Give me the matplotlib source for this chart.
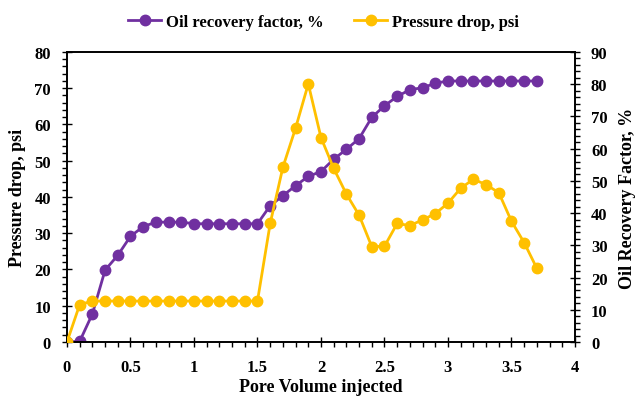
import numpy as np
import matplotlib
matplotlib.use('Agg')
import matplotlib.pyplot as plt
from matplotlib.ticker import MultipleLocator

# pore volume injected (every 0.1 PV)
pv = [0.0, 0.1, 0.2, 0.3, 0.4, 0.5, 0.6, 0.7, 0.8, 0.9,
      1.0, 1.1, 1.2, 1.3, 1.4, 1.5, 1.6, 1.7, 1.8, 1.9,
      2.0, 2.1, 2.2, 2.3, 2.4, 2.5, 2.6, 2.7, 2.8, 2.9,
      3.0, 3.1, 3.2, 3.3, 3.4, 3.5, 3.6, 3.7]

oil_recovery = [0.0, 0.2, 8.7, 22.3, 26.9, 32.8, 35.8, 37.2, 37.2, 37.2,
                36.7, 36.7, 36.7, 36.7, 36.7, 36.7, 42.3, 45.4, 48.5, 51.4,
                52.9, 56.7, 59.8, 63.1, 69.7, 73.3, 76.2, 78.3, 78.9, 80.3,
                81.0, 81.0, 81.0, 81.0, 81.0, 81.0, 81.0, 81.0]

pressure_drop = [0.0, 10.3, 11.3, 11.3, 11.3, 11.3, 11.3, 11.3, 11.3, 11.3,
                 11.3, 11.3, 11.3, 11.3, 11.3, 11.3, 32.7, 48.2, 59.0, 71.2,
                 56.4, 47.9, 40.8, 35.0, 26.3, 26.4, 32.7, 32.1, 33.7, 35.4,
                 38.3, 42.4, 44.9, 43.4, 41.2, 33.3, 27.4, 20.3]

xticks = [0, 0.5, 1, 1.5, 2, 2.5, 3, 3.5, 4]
xticklabels = ['0', '0.5', '1', '1.5', '2', '2.5', '3', '3.5', '4']

purple = '#7030A0'
gold = '#FFC000'

plt.rcParams['font.family'] = ['Liberation Serif', 'DejaVu Serif']

fig = plt.figure(figsize=(6.41, 4.02), dpi=100)
ax = fig.add_axes([0.1045, 0.1468, 0.7925, 0.7214])
ax2 = ax.twinx()

# recovery on right axis, pressure on left
ax2.plot(pv, oil_recovery, '-o', color=purple, lw=2, ms=7.5,
         label='Oil recovery factor, %', zorder=2)
ax.plot(pv, pressure_drop, '-o', color=gold, lw=2, ms=7.5,
        label='Pressure drop, psi', zorder=3)
ax.set_zorder(ax2.get_zorder() + 1)
ax.patch.set_visible(False)

ax.set_xlim(0, 4)
ax.set_ylim(0, 80)
ax2.set_ylim(0, 90)
ax.set_xticks(xticks)
ax.set_xticklabels(xticklabels)
ax.xaxis.set_minor_locator(MultipleLocator(0.1))
ax.yaxis.set_major_locator(MultipleLocator(10))
ax.yaxis.set_minor_locator(MultipleLocator(2))
ax2.yaxis.set_major_locator(MultipleLocator(10))
ax2.yaxis.set_minor_locator(MultipleLocator(2))

for a in (ax, ax2):
    a.tick_params(which='major', direction='inout', length=7, width=1,
                  labelsize=12, pad=8)
    a.tick_params(which='minor', direction='out', length=3.5, width=1)
    for lab in a.get_xticklabels() + a.get_yticklabels():
        lab.set_fontweight('bold')
    for s in a.spines.values():
        s.set_linewidth(1.2)
ax.tick_params(axis='x', pad=9)

ax.set_xlabel('Pore Volume injected', fontsize=13, fontweight='bold', labelpad=2)
ax.set_ylabel('Pressure drop, psi', fontsize=13, fontweight='bold', labelpad=6)
ax2.set_ylabel('Oil Recovery Factor, %', fontsize=13, fontweight='bold', labelpad=8)

h1, l1 = ax2.get_legend_handles_labels()
h2, l2 = ax.get_legend_handles_labels()
fig.legend(h1 + h2, l1 + l2, loc='upper center', ncol=2, frameon=False,
           bbox_to_anchor=(0.505, 1.0), prop={'size': 12, 'weight': 'bold'},
           handlelength=2.0, columnspacing=1.8, handletextpad=0.3)

plt.savefig('out.png', dpi=100)
